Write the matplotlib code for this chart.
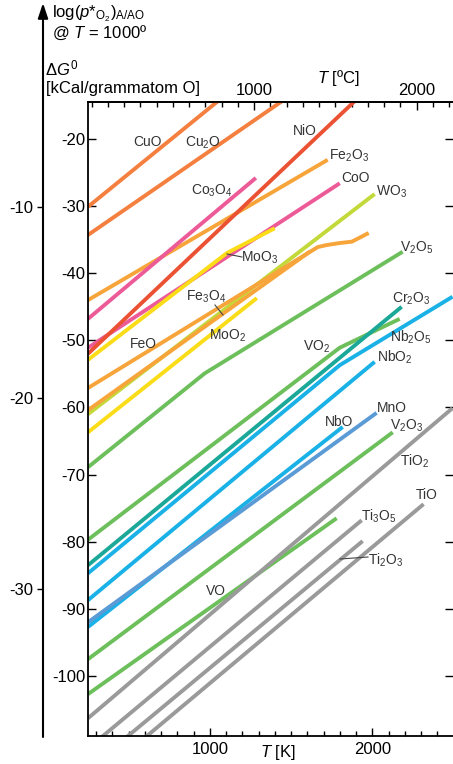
import matplotlib
matplotlib.use('Agg')
import matplotlib.pyplot as plt
from matplotlib.lines import Line2D
from matplotlib.ticker import FixedLocator, MultipleLocator

plt.rcParams['font.family'] = ['Liberation Sans', 'DejaVu Sans']
plt.rcParams['mathtext.fontset'] = 'custom'
plt.rcParams['mathtext.rm'] = 'Liberation Sans'
plt.rcParams['mathtext.it'] = 'Liberation Sans:italic'
plt.rcParams['mathtext.bf'] = 'Liberation Sans:bold'

W, H = 453, 764

# ---------------- data (T in K, dG0 in kcal / gram-atom O) ----------------
cuo_T = [250, 1068];  cuo_G = [-30.1, -14.0]
cu2o_T = [250, 1466]; cu2o_G = [-34.3, -14.0]
nio_T = [250, 1907];  nio_G = [-52.0, -14.0]
fe2o3_T = [250, 1725]; fe2o3_G = [-44.0, -23.1]
co3o4_T = [250, 1283]; co3o4_G = [-46.8, -25.8]
coo_T = [250, 1799];  coo_G = [-51.1, -26.6]
moo3_T = [250, 1104, 1399]; moo3_G = [-52.9, -37.0, -33.3]
wo3_T = [250, 2014];  wo3_G = [-61.0, -28.2]
feo_T = [250, 1664, 1719, 1799, 1873, 1922, 1977]
feo_G = [-57.1, -36.1, -35.8, -35.5, -35.3, -34.7, -34.0]
fe3o4_T = [250, 1614]; fe3o4_G = [-60.4, -36.8]
moo2_T = [250, 1289]; moo2_G = [-63.7, -43.7]
v2o5_T = [250, 969, 2186]; v2o5_G = [-68.9, -54.9, -36.8]
vo2_T = [250, 1799, 2168]; vo2_G = [-79.7, -51.1, -46.8]
cr2o3_T = [250, 2180]; cr2o3_G = [-83.5, -45.0]
nb2o5_T = [250, 1799, 2493]; nb2o5_G = [-84.7, -53.7, -43.5]
nbo2_T = [250, 2014]; nbo2_G = [-88.7, -53.2]
mno_T = [250, 2026];  mno_G = [-92.0, -60.8]
nbo_T = [250, 1817];  nbo_G = [-92.7, -62.9]
v2o3_T = [250, 2125]; v2o3_G = [-97.5, -63.7]
vo_T = [250, 1780];   vo_G = [-102.7, -76.5]
tio2_T = [250, 2493]; tio2_G = [-106.3, -60.1]
ti3o5_T = [314, 1934]; ti3o5_G = [-109.5, -76.8]
ti2o3_T = [468, 1940]; ti2o3_G = [-109.5, -79.9]
tio_T = [585, 2315];  tio_G = [-109.5, -74.4]

c_cu, c_ni, c_fe, c_co = '#f47f3e', '#eb5234', '#f7a53a', '#ec5a98'
c_w, c_mo, c_v, c_cr = '#c3d93a', '#fbdc18', '#6dbf5b', '#1ba898'
c_nb, c_mn, c_ti = '#19b1e6', '#5a9bd6', '#9a9a9a'

series = [
    (cuo_T, cuo_G, c_cu), (cu2o_T, cu2o_G, c_cu),
    (fe2o3_T, fe2o3_G, c_fe), (co3o4_T, co3o4_G, c_co),
    (coo_T, coo_G, c_co), (moo3_T, moo3_G, c_mo), (nio_T, nio_G, c_ni),
    (wo3_T, wo3_G, c_w), (fe3o4_T, fe3o4_G, c_fe), (feo_T, feo_G, c_fe),
    (moo2_T, moo2_G, c_mo), (v2o5_T, v2o5_G, c_v),
    (vo2_T, vo2_G, c_v), (cr2o3_T, cr2o3_G, c_cr), (nb2o5_T, nb2o5_G, c_nb),
    (nbo2_T, nbo2_G, c_nb), (nbo_T, nbo_G, c_nb), (mno_T, mno_G, c_mn),
    (v2o3_T, v2o3_G, c_v), (vo_T, vo_G, c_v),
    (tio2_T, tio2_G, c_ti), (ti3o5_T, ti3o5_G, c_ti),
    (ti2o3_T, ti2o3_G, c_ti), (tio_T, tio_G, c_ti),
]

labels = [r'CuO', r'Cu$_{\mathrm{2}}$O', r'NiO', r'Fe$_{\mathrm{2}}$O$_{\mathrm{3}}$',
          r'CoO', r'Co$_{\mathrm{3}}$O$_{\mathrm{4}}$', r'WO$_{\mathrm{3}}$',
          r'MoO$_{\mathrm{3}}$', r'V$_{\mathrm{2}}$O$_{\mathrm{5}}$',
          r'Fe$_{\mathrm{3}}$O$_{\mathrm{4}}$', r'FeO', r'MoO$_{\mathrm{2}}$',
          r'Cr$_{\mathrm{2}}$O$_{\mathrm{3}}$', r'Nb$_{\mathrm{2}}$O$_{\mathrm{5}}$',
          r'VO$_{\mathrm{2}}$', r'NbO$_{\mathrm{2}}$', r'MnO', r'NbO',
          r'V$_{\mathrm{2}}$O$_{\mathrm{3}}$', r'TiO$_{\mathrm{2}}$', r'TiO',
          r'Ti$_{\mathrm{3}}$O$_{\mathrm{5}}$', r'Ti$_{\mathrm{2}}$O$_{\mathrm{3}}$', r'VO']
# label centres in pixels
label_px = [(148, 142), (203, 143), (305, 131), (349, 156), (355, 178), (212, 191),
            (391, 192), (260, 258), (417, 248), (206, 297), (143, 344), (228, 336),
            (411, 299), (411, 337), (317, 347), (395, 357), (392, 408), (339, 422),
            (407, 426), (415, 461), (427, 495), (379, 516), (386, 560), (216, 591)]
leaders_px = [((227, 254), (242, 257)), ((215, 305), (223, 315)), ((340, 559), (368, 557))]

k_ticks = [1000, 2000]
c_ticks = [1000, 2000]
g_ticks = [-20, -30, -40, -50, -60, -70, -80, -90, -100]
logp_ticks = [-10, -20, -30]

# ---------------- figure ----------------
fig = plt.figure(figsize=(W / 100, H / 100), dpi=100)


def fx(x):
    return x / W


def fy(y):
    return 1 - y / H


ax = fig.add_axes([fx(88), fy(736), (452.5 - 88) / W, (736 - 102) / H])
for T, G, c in series:
    ax.plot(T, G, color=c, lw=2.8, solid_capstyle='butt')
ax.set_xlim(250, 2493)
ax.set_ylim(-108.94, -14.49)

ax.xaxis.set_major_locator(FixedLocator(k_ticks))
ax.xaxis.set_minor_locator(MultipleLocator(100))
ax.yaxis.set_major_locator(FixedLocator(g_ticks))
ax.set_yticklabels([str(v) for v in g_ticks])
ax.tick_params(which='both', direction='in', labelsize=12, width=1.0,
               right=True, labelright=False, top=False)
ax.tick_params(which='major', length=6)
ax.tick_params(which='minor', length=3.5)
ax.tick_params(axis='x', pad=4)
ax.tick_params(axis='y', pad=2)
ax.spines['right'].set_visible(False)
for s in ['left', 'bottom', 'top']:
    ax.spines[s].set_linewidth(1.3)

sec = ax.secondary_xaxis('top', functions=(lambda k: k - 273, lambda c: c + 273))
sec.xaxis.set_major_locator(FixedLocator(c_ticks))
sec.xaxis.set_minor_locator(MultipleLocator(100))
sec.tick_params(which='both', direction='in', labelsize=12, width=1.0, pad=3)
sec.tick_params(which='major', length=6)
sec.tick_params(which='minor', length=3.5)
sec.spines['top'].set_linewidth(1.3)

for txt, (x, y) in zip(labels, label_px):
    fig.text(fx(x), fy(y), txt, ha='center', va='center', fontsize=10, color='#333333')
for (a, b) in leaders_px:
    fig.add_artist(Line2D([fx(a[0]), fx(b[0])], [fy(a[1]), fy(b[1])],
                          color='#444444', lw=0.8))

# axis titles
fig.text(fx(278), fy(757), r'$T$ [K]', ha='center', va='baseline', fontsize=12)
fig.text(fx(338), fy(83), r'$T$ [ºC]', ha='center', va='baseline', fontsize=12)
fig.text(fx(45), fy(75), r'Δ$G^{\mathrm{0}}$', ha='left', va='baseline', fontsize=12)
fig.text(fx(46), fy(93), '[kCal/grammatom O]', ha='left', va='baseline', fontsize=12)
fig.text(fx(52), fy(17), r'log($p$*$_{\mathrm{O}_{\mathrm{2}}}$)$_{\mathrm{A/AO}}$',
         ha='left', va='baseline', fontsize=12)
fig.text(fx(52), fy(38), r'@ $T$ = 1000º', ha='left', va='baseline', fontsize=12)

# left log(p) axis with arrow
ax2 = fig.add_axes([fx(43), fy(737), 0.0001, (737 - 5) / H])
ax2.patch.set_visible(False)
for s in ax2.spines.values():
    s.set_visible(False)
ax2.set_xticks([])
ax2.set_ylim(-37.75, 0.576)
ax2.yaxis.set_major_locator(FixedLocator(logp_ticks))
ax2.set_yticklabels([str(v) for v in logp_ticks])
ax2.tick_params(axis='y', direction='out', length=4, width=1.0, labelsize=12, pad=3)
ax2.annotate('', xy=(fx(43), fy(3)), xytext=(fx(43), fy(737)),
             xycoords='figure fraction', textcoords='figure fraction',
             arrowprops=dict(arrowstyle='-|>,head_length=0.9,head_width=0.3',
                             lw=1.5, color='black', shrinkA=0, shrinkB=0))

fig.savefig('out.png', dpi=100)
